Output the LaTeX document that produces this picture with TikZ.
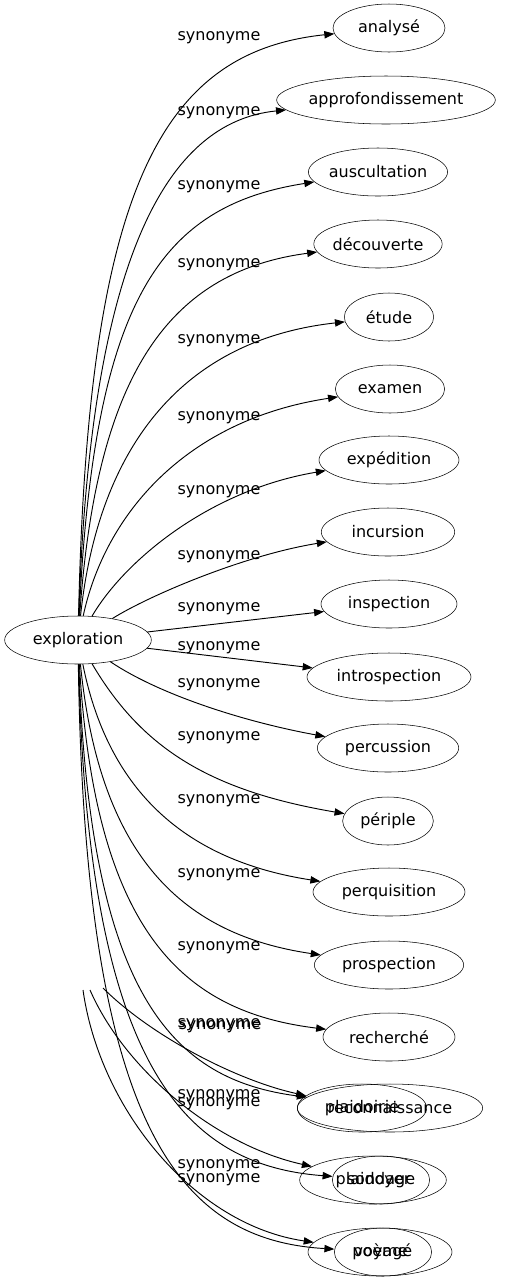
\documentclass[tikz,border=0pt]{standalone}
\usepackage{fontspec}
\setmainfont{DejaVu Sans}
\usetikzlibrary{shapes.geometric,arrows.meta}

\begin{document}
\begin{tikzpicture}[x=0.75pt, y=-0.75pt,
                    every node/.style={font=\fontsize{12pt}{14pt}\selectfont},
                    word/.style={ellipse, draw, inner xsep=0pt, inner ysep=0pt, minimum height=36pt, minimum width=#1},
                    lbl/.style={inner sep=0pt},
                    syn/.style={line width=0.7pt, -{Triangle[length=7.5pt,width=5.5pt]}}
]
\useasboundingbox (0,0) rectangle (507,1283);
%
\node [word=110pt] at (78,640) (exploration) {exploration};
%
\node [word=84pt]  at (389,28)   (analyse) {analysé};
\node [word=163pt] at (386,100)  (approfondissement) {approfondissement};
\node [word=100pt] at (378,172)  (auscultation) {auscultation};
\node [word=87pt]  at (378,244)  (decouverte) {découverte};
\node [word=67pt]  at (389,317)  (etude) {étude};
\node [word=82pt]  at (390,389)  (examen) {examen};
\node [word=105pt] at (389,460)  (expedition) {expédition};
\node [word=100pt] at (388,532)  (incursion) {incursion};
\node [word=102pt] at (389,604)  (inspection) {inspection};
\node [word=123pt] at (389,677)  (introspection) {introspection};
\node [word=106pt] at (388,748)  (percussion) {percussion};
\node [word=68pt]  at (388,821)  (periple) {périple};
\node [word=114pt] at (389,892)  (perquisition) {perquisition};
\node [word=112pt] at (389,965)  (prospection) {prospection};
\node [word=99pt]  at (389,1037) (recherche) {recherché};
\node [word=139pt] at (390,1108) (reconnaissance) {reconnaissance};
\node [word=97pt]  at (362,1108) (plaidoirie) {plaidoirie};
\node [word=110pt] at (373,1180) (plaidoyer) {plaidoyer};
\node [word=73pt]  at (381,1180) (sondage) {sondage};
\node [word=108pt] at (380,1252) (poeme) {poème};
\node [word=73pt]  at (383,1252) (voyage) {voyagé};
%
\coordinate (t1) at (103,988);
\coordinate (t2) at (90,990);
\coordinate (t3) at (83,990);
%
\draw [syn] (exploration) .. controls (88,190) and (160,52) .. (analyse);
\draw [syn] (exploration) .. controls (90,262) and (165,122) .. (approfondissement);
\draw [syn] (exploration) .. controls (94,300) and (160,206) .. (auscultation);
\draw [syn] (exploration) .. controls (96,380) and (165,272) .. (decouverte);
\draw [syn] (exploration) .. controls (98,450) and (180,340) .. (etude);
\draw [syn] (exploration) .. controls (105,515) and (185,420) .. (examen);
\draw [syn] (exploration) .. controls (125,560) and (210,490) .. (expedition);
\draw [syn] (exploration) .. controls (150,595) and (245,555) .. (incursion);
\draw [syn] (exploration) -- (inspection);
\draw [syn] (exploration) -- (introspection);
\draw [syn] (exploration) .. controls (160,695) and (245,722) .. (percussion);
\draw [syn] (exploration) .. controls (140,745) and (205,790) .. (periple);
\draw [syn] (exploration) .. controls (110,800) and (195,862) .. (perquisition);
\draw [syn] (exploration) .. controls (100,860) and (185,935) .. (prospection);
\draw [syn] (exploration) .. controls (95,935) and (185,1012) .. (recherche);
\draw [syn] (exploration) .. controls (90,1000) and (175,1080) .. (reconnaissance);
\draw [syn] (exploration) .. controls (88,1060) and (180,1165) .. (sondage);
\draw [syn] (exploration) .. controls (85,1130) and (180,1240) .. (voyage);
\draw [syn] (t1) .. controls (150,1035) and (235,1080) .. (plaidoirie);
\draw [syn] (t2) .. controls (125,1070) and (215,1145) .. (plaidoyer);
\draw [syn] (t3) .. controls (100,1110) and (195,1225) .. (poeme);
%
\node [lbl] at (219,38)   (s1) {synonyme};
\node [lbl] at (219,113)  (s2) {synonyme};
\node [lbl] at (219,187)  (s3) {synonyme};
\node [lbl] at (219,265)  (s4) {synonyme};
\node [lbl] at (219,341)  (s5) {synonyme};
\node [lbl] at (219,418)  (s6) {synonyme};
\node [lbl] at (219,492)  (s7) {synonyme};
\node [lbl] at (219,557)  (s8) {synonyme};
\node [lbl] at (219,609)  (s9) {synonyme};
\node [lbl] at (219,648)  (s10) {synonyme};
\node [lbl] at (219,685)  (s11) {synonyme};
\node [lbl] at (219,738)  (s12) {synonyme};
\node [lbl] at (219,801)  (s13) {synonyme};
\node [lbl] at (219,875)  (s14) {synonyme};
\node [lbl] at (219,948)  (s15) {synonyme};
\node [lbl] at (219,1025) (s16) {synonyme};
\node [lbl] at (220,1027) (s17) {synonyme};
\node [lbl] at (219,1096) (s18) {synonyme};
\node [lbl] at (219,1104) (s19) {synonyme};
\node [lbl] at (219,1166) (s20) {synonyme};
\node [lbl] at (219,1180) (s21) {synonyme};
\end{tikzpicture}
\end{document}
